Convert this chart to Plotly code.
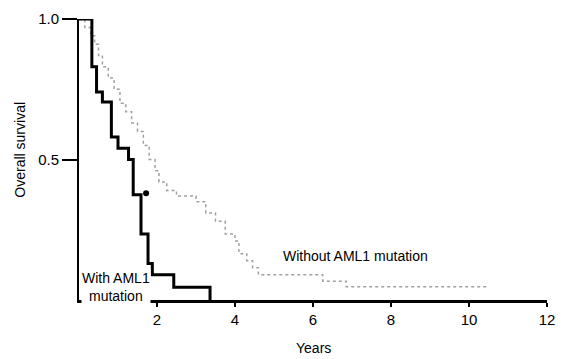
import plotly.graph_objects as go

# With AML1 mutation (step Kaplan-Meier curve)
aml_t = [0.0, 0.33, 0.45, 0.60, 0.83, 1.00, 1.27, 1.39, 1.59, 1.77, 1.88, 2.43, 3.36, 3.36]
aml_s = [1.0, 0.83, 0.74, 0.705, 0.58, 0.54, 0.50, 0.375, 0.235, 0.13, 0.09, 0.045, 0.0, 0.0]
aml_cens_t = [1.72]
aml_cens_s = [0.38]

# Without AML1 mutation
wo_t = [0.0, 0.15, 0.30, 0.40, 0.50, 0.60, 0.75, 0.90, 1.05, 1.20, 1.35, 1.50, 1.65, 1.80,
        1.95, 2.05, 2.25, 2.50, 3.00, 3.25, 3.50, 3.75, 4.00, 4.10, 4.30, 4.45, 4.60, 6.25,
        6.85, 10.5]
wo_s = [1.0, 0.97, 0.94, 0.91, 0.87, 0.83, 0.79, 0.75, 0.70, 0.67, 0.63, 0.60, 0.55, 0.50,
        0.46, 0.42, 0.39, 0.37, 0.35, 0.31, 0.28, 0.235, 0.21, 0.165, 0.14, 0.115, 0.09, 0.067,
        0.047, 0.047]

x_ticks = [2, 4, 6, 8, 10, 12]
y_ticks = [0.5, 1.0]
y_ticktext = ["0.5", "1.0"]

FONT = "Liberation Sans, Arial, sans-serif"

fig = go.Figure()
fig.add_trace(go.Scatter(x=wo_t, y=wo_s, mode="lines", line_shape="hv",
                         line=dict(color="#a0a0a0", width=1.5, dash="dot"),
                         cliponaxis=False, showlegend=False))
fig.add_trace(go.Scatter(x=aml_t, y=aml_s, mode="lines", line_shape="hv",
                         line=dict(color="black", width=3),
                         cliponaxis=False, showlegend=False))
fig.add_trace(go.Scatter(x=aml_cens_t, y=aml_cens_s, mode="markers",
                         marker=dict(color="black", size=6),
                         cliponaxis=False, showlegend=False))

fig.update_layout(
    width=565, height=359,
    margin=dict(l=79, r=10, t=13, b=59),
    paper_bgcolor="white", plot_bgcolor="white",
    font=dict(family=FONT, size=15, color="black"),
    xaxis=dict(range=[0, 12], tickvals=x_ticks, ticks="outside", ticklen=4, tickwidth=1.5,
               tickcolor="black", showline=True, linecolor="black", linewidth=2.5,
               showgrid=False, zeroline=False, tickfont=dict(size=15)),
    yaxis=dict(range=[0, 1.0], tickvals=y_ticks, ticktext=y_ticktext, ticks="outside",
               ticklen=15, tickwidth=1.5, tickcolor="black", showline=True,
               linecolor="black", linewidth=2, showgrid=False, zeroline=False,
               tickfont=dict(size=15)),
    annotations=[
        dict(text="Overall survival", xref="paper", yref="paper", x=0, y=0.535,
             xshift=-59, xanchor="center", yanchor="middle", textangle=-90,
             showarrow=False, font=dict(size=14)),
        dict(text="Years", xref="paper", yref="paper", x=0.5, y=0, yshift=-48,
             xanchor="center", yanchor="middle", showarrow=False, font=dict(size=14)),
        dict(text="Without AML1 mutation", x=7.1, y=0.155, showarrow=False,
             font=dict(size=14)),
        dict(text="With AML1<br>mutation", x=0.95, y=0.045, showarrow=False,
             font=dict(size=14), bgcolor="white", borderpad=0),
    ],
)

fig.write_html("out.html", config={"displayModeBar": False},
               post_script="document.body.style.margin='0';document.body.style.overflow='hidden';")
